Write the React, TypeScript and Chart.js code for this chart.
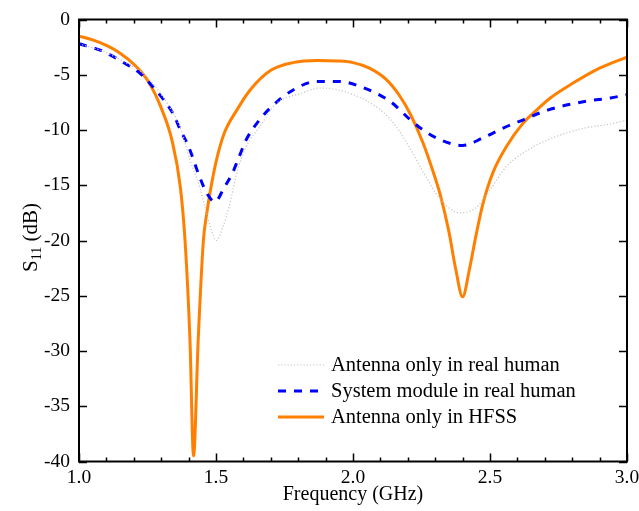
import React, { useEffect, useRef } from "react";
import { Chart, registerables } from "chart.js";

Chart.register(...registerables);

// Frequency (GHz) / S11 (dB) samples for each curve
const realHumanFreq = [
  1.0, 1.08, 1.17, 1.24, 1.32, 1.37, 1.405, 1.44, 1.46, 1.48, 1.5, 1.525, 1.55, 1.576, 1.61,
  1.66, 1.72, 1.81, 1.88, 1.95, 2.06, 2.135, 2.2, 2.256, 2.32, 2.39, 2.45, 2.5, 2.56, 2.62,
  2.71, 2.85, 2.93, 3.0,
];
const realHumanS11 = [
  -2.2, -2.8, -3.9, -5.0, -7.5, -9.8, -12.7, -15.1, -17.0, -18.8, -20.0, -18.8, -16.7, -13.9,
  -11.5, -9.7, -7.6, -6.7, -6.2, -6.4, -7.5, -9.0, -11.3, -13.8, -16.3, -17.5, -17.0, -15.4,
  -13.3, -12.1, -10.9, -9.8, -9.5, -9.1,
];

const moduleFreq = [
  1.0, 1.08, 1.17, 1.22, 1.27, 1.31, 1.345, 1.37, 1.4, 1.435, 1.466, 1.496, 1.53, 1.56, 1.58,
  1.61, 1.64, 1.69, 1.78, 1.87, 1.95, 2.03, 2.135, 2.21, 2.256, 2.32, 2.4, 2.475, 2.55, 2.62,
  2.71, 2.85, 2.94, 3.0,
];
const moduleS11 = [
  -2.2, -2.8, -4.0, -4.8, -6.1, -7.3, -8.6, -10.0, -11.5, -13.9, -15.7, -16.5, -15.2, -13.9,
  -12.7, -10.9, -9.7, -8.2, -6.4, -5.6, -5.6, -6.1, -7.4, -9.1, -10.0, -10.9, -11.4, -10.7,
  -9.8, -9.1, -8.2, -7.4, -7.1, -6.8,
];

const hfssFreq = [
  1.0, 1.05, 1.1, 1.15, 1.2, 1.25, 1.3, 1.34, 1.37, 1.387, 1.405, 1.418, 1.435, 1.454, 1.466,
  1.478, 1.5, 1.53, 1.576, 1.624, 1.7, 1.78, 1.87, 1.94, 2.0, 2.06, 2.12, 2.17, 2.21, 2.256,
  2.29, 2.32, 2.35, 2.375, 2.4, 2.425, 2.45, 2.475, 2.51, 2.56, 2.62, 2.67, 2.72, 2.8, 2.9, 3.0,
];
const hfssS11 = [
  -1.5, -1.85, -2.35, -3.05, -4.05, -5.5, -8.0, -11.0, -15.2, -20.0, -29.0, -39.5, -29.0, -20.0,
  -17.6, -15.7, -12.9, -10.3, -8.2, -6.4, -4.6, -3.9, -3.7, -3.75, -3.9, -4.4, -5.4, -6.9,
  -8.6, -11.2, -13.6, -16.0, -19.2, -22.6, -25.1, -22.6, -19.4, -16.6, -13.9, -11.5, -9.4,
  -8.2, -7.1, -5.8, -4.4, -3.4,
];

const seriesLabels = [
  "Antenna only in real human",
  "System module in real human",
  "Antenna only in HFSS",
];

const xTickValues = [1.0, 1.5, 2.0, 2.5, 3.0];
const yTickValues = [0, -5, -10, -15, -20, -25, -30, -35, -40];

const SERIF = "'Liberation Serif', 'Times New Roman', serif";

const zip = (xs: number[], ys: number[]) => xs.map((x, i) => ({ x, y: ys[i] }));

const styles = [
  { color: "#c4c4c4", width: 1.2, dash: [1.2, 2] },
  { color: "#0000ff", width: 3, dash: [8, 8] },
  { color: "#ff7f00", width: 3, dash: [] as number[] },
];

// Frame, inward tick marks, y-axis title with subscript and the legend
const decorations = {
  id: "decorations",
  afterDatasetsDraw(chart: any) {
    const { ctx, chartArea: a, scales } = chart;
    const xs = scales.x;
    const ys = scales.y;
    ctx.save();
    ctx.strokeStyle = "#000";
    ctx.lineWidth = 1.5;
    ctx.setLineDash([]);
    ctx.beginPath();
    // x ticks: major every 0.5, minor every 0.1
    for (let i = 0; i <= 20; i++) {
      const v = 1 + i * 0.1;
      const px = Math.round(xs.getPixelForValue(v)) + 0.5;
      const len = i % 5 === 0 ? 8 : 4;
      ctx.moveTo(px, a.bottom);
      ctx.lineTo(px, a.bottom - len);
      ctx.moveTo(px, a.top);
      ctx.lineTo(px, a.top + len);
    }
    // y ticks every 5 dB
    for (const v of yTickValues) {
      const py = Math.round(ys.getPixelForValue(v)) + 0.5;
      ctx.moveTo(a.left, py);
      ctx.lineTo(a.left + 8, py);
      ctx.moveTo(a.right, py);
      ctx.lineTo(a.right - 8, py);
    }
    ctx.stroke();

    ctx.lineWidth = 2;
    ctx.strokeRect(a.left, a.top, a.right - a.left, a.bottom - a.top);

    // y-axis title: S11 (dB)
    ctx.save();
    const cy = (a.top + a.bottom) / 2 - 3;
    ctx.translate(37, cy);
    ctx.rotate(-Math.PI / 2);
    ctx.fillStyle = "#000";
    ctx.textBaseline = "alphabetic";
    ctx.textAlign = "left";
    const big = `21px ${SERIF}`;
    const small = `14px ${SERIF}`;
    ctx.font = big;
    const wS = ctx.measureText("S").width;
    const wRest = ctx.measureText(" (dB)").width;
    ctx.font = small;
    const wSub = ctx.measureText("11").width;
    let x0 = -(wS + wSub + wRest) / 2;
    ctx.font = big;
    ctx.fillText("S", x0, 0);
    x0 += wS;
    ctx.font = small;
    ctx.fillText("11", x0, 4);
    x0 += wSub;
    ctx.font = big;
    ctx.fillText(" (dB)", x0, 0);
    ctx.restore();

    // legend
    const rows = [365, 391, 417];
    ctx.font = `20.5px ${SERIF}`;
    ctx.textBaseline = "middle";
    ctx.textAlign = "left";
    rows.forEach((ry, i) => {
      const s = styles[i];
      ctx.strokeStyle = s.color;
      ctx.lineWidth = s.width;
      ctx.setLineDash(s.dash);
      ctx.beginPath();
      ctx.moveTo(278, ry);
      ctx.lineTo(324, ry);
      ctx.stroke();
      ctx.setLineDash([]);
      ctx.fillStyle = "#000";
      ctx.fillText(seriesLabels[i], 331, ry + 1);
    });
    ctx.restore();
  },
};

export default function App() {
  const canvasRef = useRef<HTMLCanvasElement | null>(null);

  useEffect(() => {
    const canvas = canvasRef.current;
    if (!canvas) return;
    const seriesData = [
      zip(realHumanFreq, realHumanS11),
      zip(moduleFreq, moduleS11),
      zip(hfssFreq, hfssS11),
    ];
    const chart = new Chart(canvas, {
      type: "line",
      data: {
        datasets: seriesData.map((d, i) => ({
          label: seriesLabels[i],
          data: d,
          borderColor: styles[i].color,
          borderWidth: styles[i].width,
          borderDash: styles[i].dash,
          pointRadius: 0,
          fill: false,
          cubicInterpolationMode: "monotone" as const,
        })),
      },
      options: {
        responsive: false,
        animation: false,
        layout: { padding: { top: 19.5, right: 12, left: 0, bottom: 0 } },
        plugins: { legend: { display: false }, tooltip: { enabled: false } },
        scales: {
          x: {
            type: "linear",
            min: 1,
            max: 3,
            afterBuildTicks: (s: any) => {
              s.ticks = xTickValues.map((v) => ({ value: v }));
            },
            afterFit: (s: any) => {
              s.height = 49.5;
              s.paddingLeft = 0;
              s.paddingRight = 0;
            },
            ticks: {
              color: "#000",
              font: { family: SERIF, size: 19.5 },
              padding: 5,
              maxRotation: 0,
              callback: (v: any) => Number(v).toFixed(1),
            },
            grid: { display: false, drawTicks: false },
            border: { display: false },
            title: {
              display: true,
              text: "Frequency (GHz)",
              color: "#000",
              font: { family: SERIF, size: 20 },
              padding: { top: 0, bottom: 4 },
            },
          },
          y: {
            type: "linear",
            min: -40,
            max: 0,
            afterBuildTicks: (s: any) => {
              s.ticks = yTickValues.map((v) => ({ value: v }));
            },
            afterFit: (s: any) => {
              s.width = 79;
              s.paddingTop = 0;
              s.paddingBottom = 0;
            },
            ticks: {
              color: "#000",
              font: { family: SERIF, size: 19.5 },
              padding: 9,
              callback: (v: any) => String(v),
            },
            grid: { display: false, drawTicks: false },
            border: { display: false },
          },
        },
      },
      plugins: [decorations],
    });
    return () => chart.destroy();
  }, []);

  return (
    <div style={{ position: "absolute", left: 0, top: 0, width: 639, height: 511, background: "#fff" }}>
      <canvas ref={canvasRef} width={639} height={511} />
    </div>
  );
}
